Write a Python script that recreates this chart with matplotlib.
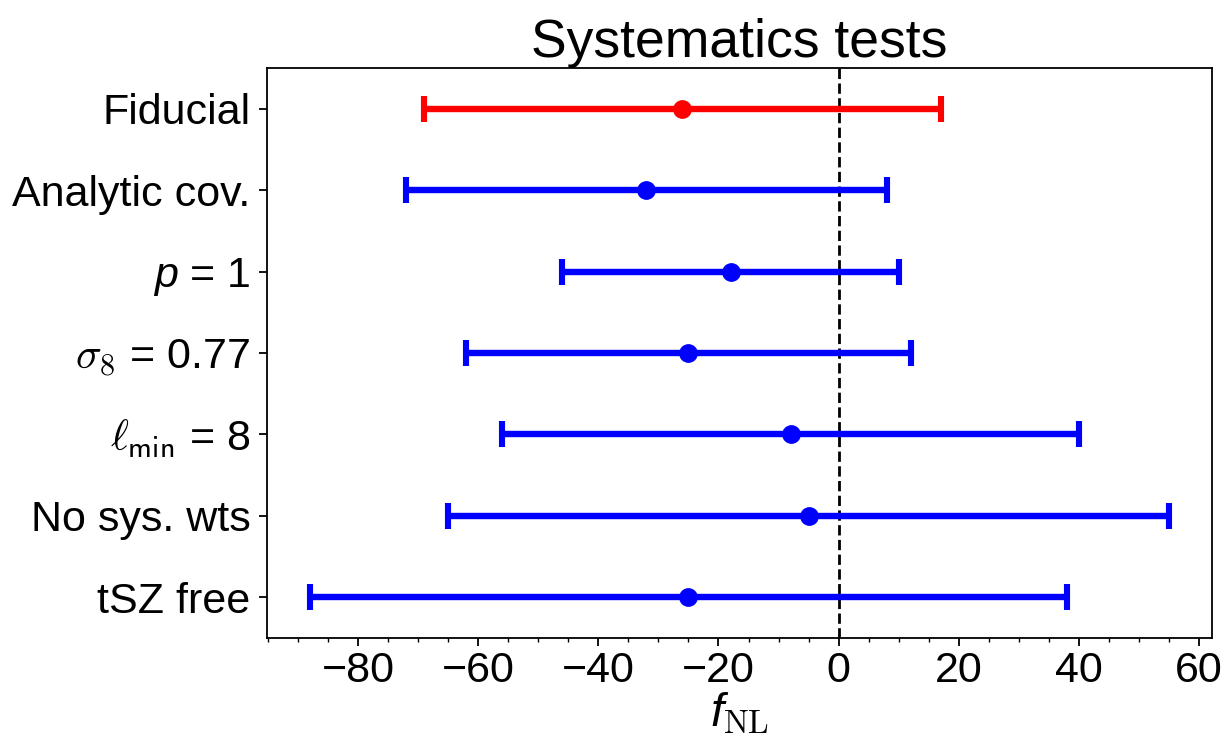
import matplotlib
matplotlib.use("Agg")
import matplotlib.pyplot as plt

# Systematics test results: central fNL and symmetric 1-sigma errors
labels = ["Fiducial", "Analytic cov.", r"$p$ = 1", r"$\sigma_{\mathsf{8}}$ = 0.77",
          r"$\ell_{\mathsf{min}}$ = 8", "No sys. wts", "tSZ free"]
fnl = [-26, -32, -18, -25, -8, -5, -25]
err = [43, 40, 28, 37, 48, 60, 63]
colors = ["red", "blue", "blue", "blue", "blue", "blue", "blue"]
xticks = [-80, -60, -40, -20, 0, 20, 40, 60]

plt.rcParams["font.family"] = ["Liberation Sans", "DejaVu Sans"]
plt.rcParams["mathtext.fontset"] = "custom"
plt.rcParams["mathtext.rm"] = "cmr10"
plt.rcParams["mathtext.it"] = "Liberation Sans:italic"
plt.rcParams["mathtext.sf"] = "Liberation Sans"
plt.rcParams["axes.unicode_minus"] = True

fig = plt.figure(figsize=(12.26, 7.52), dpi=100)
ax = fig.add_axes([0.2178, 0.1516, 0.7708, 0.758])

ypos = list(range(len(labels)))
for y, x, e, c in zip(ypos, fnl, err, colors):
    ax.errorbar(x, y, xerr=e, fmt="o", color=c, ecolor=c, elinewidth=4.6,
                capsize=9.7, capthick=4.4, markersize=12.5, zorder=3)

ax.axvline(0, color="black", linestyle="--", linewidth=2, zorder=2)

ax.set_ylim(-0.5, 6.5)
ax.invert_yaxis()
ax.set_yticks(ypos)
ax.set_yticklabels(labels)
for i, lbl in enumerate(ax.get_yticklabels()):
    if i in (3, 4):
        lbl.set_math_fontfamily("cm")

ax.set_xticks(xticks)
ax.set_xticklabels([f"{v:d}".replace("-", "\u2212") for v in xticks])
ax.xaxis.set_minor_locator(matplotlib.ticker.MultipleLocator(5))

ax.tick_params(axis="both", which="major", labelsize=31, length=6, width=1.3)
ax.tick_params(axis="y", which="major", pad=6)
ax.tick_params(axis="x", which="minor", length=3, width=1.0)
for s in ax.spines.values():
    s.set_linewidth(1.3)

ax.set_xlabel(r"$f_{\mathrm{NL}}$", fontsize=34, labelpad=0)
ax.set_title("Systematics tests", fontsize=38.5, pad=4)

fig.savefig("out.png", dpi=100)
